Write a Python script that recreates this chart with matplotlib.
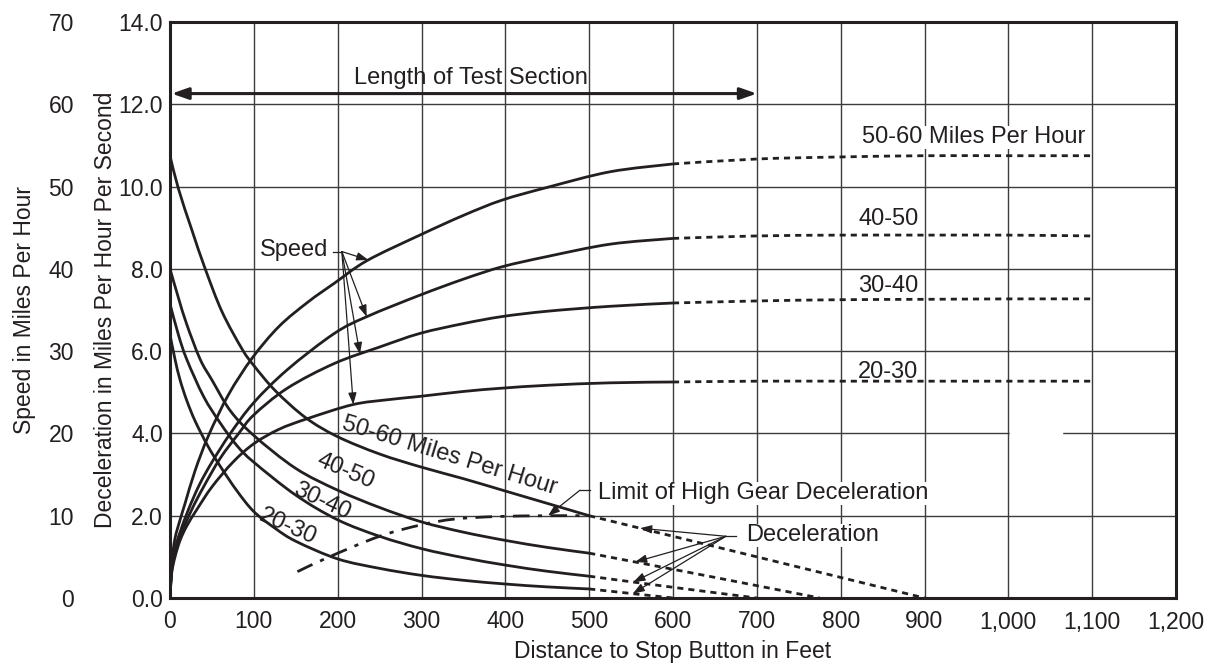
import numpy as np
import matplotlib
matplotlib.use('Agg')
import matplotlib.pyplot as plt
from matplotlib.path import Path
from matplotlib.patches import PathPatch

plt.rcParams['font.family'] = ['Liberation Sans', 'DejaVu Sans']

INK = '#231f20'

# distance to stop button (ft) -> speed, read in deceleration units (mph = 5 x value)
spd_x = {
    '50-60': [0, 2, 6, 12, 18, 30, 46, 70, 98, 130, 165, 196, 235, 298, 350, 396, 450, 525, 600],
    '40-50': [0, 2, 6, 12, 22, 35, 50, 72, 100, 140, 196, 235, 298, 350, 396, 450, 525, 600],
    '30-40': [0, 2, 6, 12, 26, 40, 60, 82, 100, 140, 196, 250, 298, 350, 396, 450, 525, 600],
    '20-30': [0, 2, 6, 12, 20, 32, 50, 75, 100, 130, 164, 218, 260, 298, 350, 396, 450, 525, 600],
}
spd_y = {
    '50-60': [0, 0.85, 1.45, 1.9, 2.3, 3.1, 3.95, 4.95, 5.83, 6.6, 7.2, 7.65, 8.2, 8.82, 9.3, 9.67, 9.98, 10.36, 10.55],
    '40-50': [0, 0.7, 1.2, 1.6, 2.15, 2.75, 3.3, 4.0, 4.75, 5.55, 6.43, 6.84, 7.36, 7.75, 8.05, 8.3, 8.6, 8.74],
    '30-40': [0, 0.65, 1.1, 1.5, 2.15, 2.7, 3.4, 4.0, 4.45, 5.1, 5.7, 6.1, 6.43, 6.67, 6.84, 6.97, 7.09, 7.17],
    '20-30': [0, 0.6, 1.0, 1.4, 1.75, 2.15, 2.7, 3.3, 3.75, 4.1, 4.36, 4.7, 4.82, 4.9, 5.02, 5.1, 5.17, 5.23, 5.25],
}
# extrapolated speed beyond the test section (dashed)
spd_ext_x = [600, 700, 800, 900, 1000, 1100]
spd_ext_y = {
    '50-60': [10.55, 10.67, 10.72, 10.75, 10.75, 10.75],
    '40-50': [8.74, 8.8, 8.82, 8.82, 8.82, 8.8],
    '30-40': [7.17, 7.22, 7.25, 7.26, 7.27, 7.27],
    '20-30': [5.25, 5.27, 5.27, 5.27, 5.27, 5.27],
}

# deceleration (mph per second)
dec_x = {
    '50-60': [0, 10, 26, 42, 62, 86, 100, 126, 162, 200, 250, 300, 350, 400, 450, 500],
    '40-50': [0, 10, 20, 36, 50, 72, 100, 150, 200, 250, 300, 350, 400, 450, 500],
    '30-40': [0, 10, 20, 40, 60, 80, 100, 150, 200, 250, 300, 350, 400, 450, 500],
    '20-30': [0, 6, 12, 20, 30, 45, 60, 80, 100, 125, 150, 200, 250, 300, 350, 400, 450, 500],
}
dec_y = {
    '50-60': [10.75, 9.95, 8.95, 8.0, 6.96, 6.05, 5.65, 5.03, 4.38, 3.92, 3.5, 3.18, 2.9, 2.6, 2.3, 2.0],
    '40-50': [8.0, 7.3, 6.65, 5.8, 5.3, 4.55, 3.95, 3.15, 2.62, 2.2, 1.85, 1.6, 1.4, 1.23, 1.09],
    '30-40': [7.15, 6.4, 5.8, 4.9, 4.25, 3.7, 3.3, 2.5, 1.9, 1.5, 1.2, 0.98, 0.8, 0.65, 0.53],
    '20-30': [6.4, 5.8, 5.3, 4.8, 4.3, 3.7, 3.2, 2.6, 2.1, 1.7, 1.38, 0.95, 0.72, 0.55, 0.43, 0.34, 0.27, 0.22],
}
dec_ext_x = {'50-60': [500, 700, 900], '40-50': [500, 640, 775], '30-40': [500, 600, 700], '20-30': [500, 550, 600]}
dec_ext_y = {'50-60': [2.0, 1.0, 0.0], '40-50': [1.09, 0.54, 0.0], '30-40': [0.53, 0.26, 0.0], '20-30': [0.22, 0.11, 0.0]}

# limit of high gear deceleration
limit_x = [152, 190, 250, 300, 340, 390, 450, 500]
limit_y = [0.64, 1.0, 1.5, 1.78, 1.92, 1.98, 2.0, 2.0]

x_ticks = list(range(0, 1201, 100))
x_labels = ['0', '100', '200', '300', '400', '500', '600', '700', '800', '900', '1,000', '1,100', '1,200']
dec_ticks = list(range(0, 15, 2))
speed_ticks = list(range(0, 71, 10))

groups = ['50-60', '40-50', '30-40', '20-30']


def smooth(ax, xs, ys, **kw):
    # catmull-rom through the read points, drawn as bezier path
    p = np.column_stack([xs, ys]).astype(float)
    e = np.vstack([p[0], p, p[-1]])
    verts = [p[0]]
    codes = [Path.MOVETO]
    for i in range(len(p) - 1):
        a, b, c, d = e[i], e[i + 1], e[i + 2], e[i + 3]
        verts += [b + (c - a) / 6, c - (d - b) / 6, c]
        codes += [Path.CURVE4] * 3
    ax.add_patch(PathPatch(Path(verts, codes), fill=False, **kw))


fig = plt.figure(figsize=(12.09, 6.71), dpi=100)
ax = fig.add_axes([170 / 1209, 73 / 671, 1006 / 1209, 576 / 671])
ax.set_xlim(0, 1200)
ax.set_ylim(0, 14)

ax.set_xticks(x_ticks)
ax.set_xticklabels(x_labels)
ax.set_yticks(dec_ticks)
ax.set_yticklabels(['%.1f' % v for v in dec_ticks])
ax.tick_params(length=0, labelsize=16.5, colors=INK)
ax.tick_params(axis='x', pad=9)
ax.tick_params(axis='y', pad=5)
ax.grid(True, color='#3c3c3c', lw=1.0)
ax.set_axisbelow(True)
for s in ax.spines.values():
    s.set_linewidth(2.2)
    s.set_color(INK)
    s.set_zorder(6)
# the scan has a short break in the 4.0 grid line
ax.plot([1003, 1063], [4, 4], color='white', lw=2.5, zorder=1)

sec = ax.secondary_yaxis(-0.09, functions=(lambda d: d * 5, lambda s: s / 5))
sec.set_yticks(speed_ticks)
sec.tick_params(length=0, labelsize=16.5, colors=INK, pad=4)
sec.spines['left'].set_visible(False)
sec.set_ylabel('Speed in Miles Per Hour', fontsize=16.5, color=INK)
sec.yaxis.set_label_coords(-0.133, 0.5, transform=ax.transAxes)

ax.set_ylabel('Deceleration in Miles Per Hour Per Second', fontsize=16.5, color=INK)
ax.yaxis.set_label_coords(-0.053, 0.5)
ax.set_xlabel('Distance to Stop Button in Feet', fontsize=16.5, color=INK, labelpad=5)

lw = 2.0
dash = (0, (2.2, 1.8))
for g in groups:
    smooth(ax, spd_x[g], spd_y[g], color=INK, lw=lw, zorder=3)
    smooth(ax, spd_ext_x, spd_ext_y[g], color=INK, lw=lw, ls=dash, zorder=3)
    smooth(ax, dec_x[g], dec_y[g], color=INK, lw=lw, zorder=3)
    smooth(ax, dec_ext_x[g], dec_ext_y[g], color=INK, lw=lw, ls=dash, zorder=3)
smooth(ax, limit_x, limit_y, color=INK, lw=lw, ls=(0, (6, 3, 1.5, 3)), zorder=3)

box = dict(facecolor='white', edgecolor='none', pad=0.3)
fs = 17

# speed labels on the right (boxes sit under the curves, over the grid)
ax.text(959, 11.2, '50-60 Miles Per Hour', fontsize=fs, color=INK, ha='center', va='center', bbox=box, zorder=2)
ax.text(857, 9.2, '40-50', fontsize=fs, color=INK, ha='center', va='center', bbox=box, zorder=2)
ax.text(857, 7.58, '30-40', fontsize=fs, color=INK, ha='center', va='center', bbox=box, zorder=2)
ax.text(857, 5.5, '20-30', fontsize=fs, color=INK, ha='center', va='center', bbox=box, zorder=2)

# deceleration labels along the curves
ax.text(333, 3.45, '50-60 Miles Per Hour', fontsize=fs, color=INK, ha='center', va='center',
        rotation=-17, rotation_mode='anchor', zorder=4)
ax.text(209, 3.07, '40-50', fontsize=fs, color=INK, ha='center', va='center',
        rotation=-23, rotation_mode='anchor', zorder=4)
ax.text(181, 2.35, '30-40', fontsize=fs, color=INK, ha='center', va='center',
        rotation=-25, rotation_mode='anchor', zorder=4)
ax.text(141, 1.72, '20-30', fontsize=fs, color=INK, ha='center', va='center',
        rotation=-24, rotation_mode='anchor', zorder=4)

# length of test section
ax.annotate('', xy=(2, 12.26), xytext=(700, 12.26),
            arrowprops=dict(arrowstyle='<|-|>,head_length=1.0,head_width=0.35', lw=2.2, color=INK,
                            shrinkA=0, shrinkB=0), zorder=5)
ax.text(359, 12.65, 'Length of Test Section', fontsize=fs, color=INK, ha='center', va='center', zorder=5)

thin = dict(arrowstyle='-|>,head_length=0.7,head_width=0.25', lw=0.9, color=INK, shrinkA=0, shrinkB=0)

# "Speed" pointers
ax.text(189, 8.45, 'Speed', fontsize=fs, color=INK, ha='right', va='center', zorder=5)
ax.plot([195, 205], [8.42, 8.42], color=INK, lw=0.9, zorder=5)
for g, tx in zip(groups, [236.6, 234.6, 226.6, 218.6]):
    ty = np.interp(tx, spd_x[g], spd_y[g])
    ax.annotate('', xy=(tx, ty), xytext=(205, 8.42), arrowprops=thin, zorder=5)

# limit of high gear deceleration
ax.text(511, 2.55, 'Limit of High Gear Deceleration', fontsize=fs, color=INK, ha='left', va='center',
        bbox=box, zorder=5)
ax.plot([501, 489], [2.62, 2.62], color=INK, lw=0.9, zorder=5)
ax.annotate('', xy=(451, np.interp(451, limit_x, limit_y)), xytext=(489, 2.62), arrowprops=thin, zorder=5)

# "Deceleration" pointers
ax.text(687, 1.52, 'Deceleration', fontsize=fs, color=INK, ha='left', va='center', bbox=box, zorder=5)
ax.plot([675, 663], [1.5, 1.5], color=INK, lw=0.9, zorder=5)
for g, tx in zip(groups, [560.7, 554.7, 552.7, 552.0]):
    ty = np.interp(tx, dec_ext_x[g], dec_ext_y[g])
    ax.annotate('', xy=(tx, ty), xytext=(663, 1.5), arrowprops=thin, zorder=5)

fig.savefig('out.png', dpi=100)
